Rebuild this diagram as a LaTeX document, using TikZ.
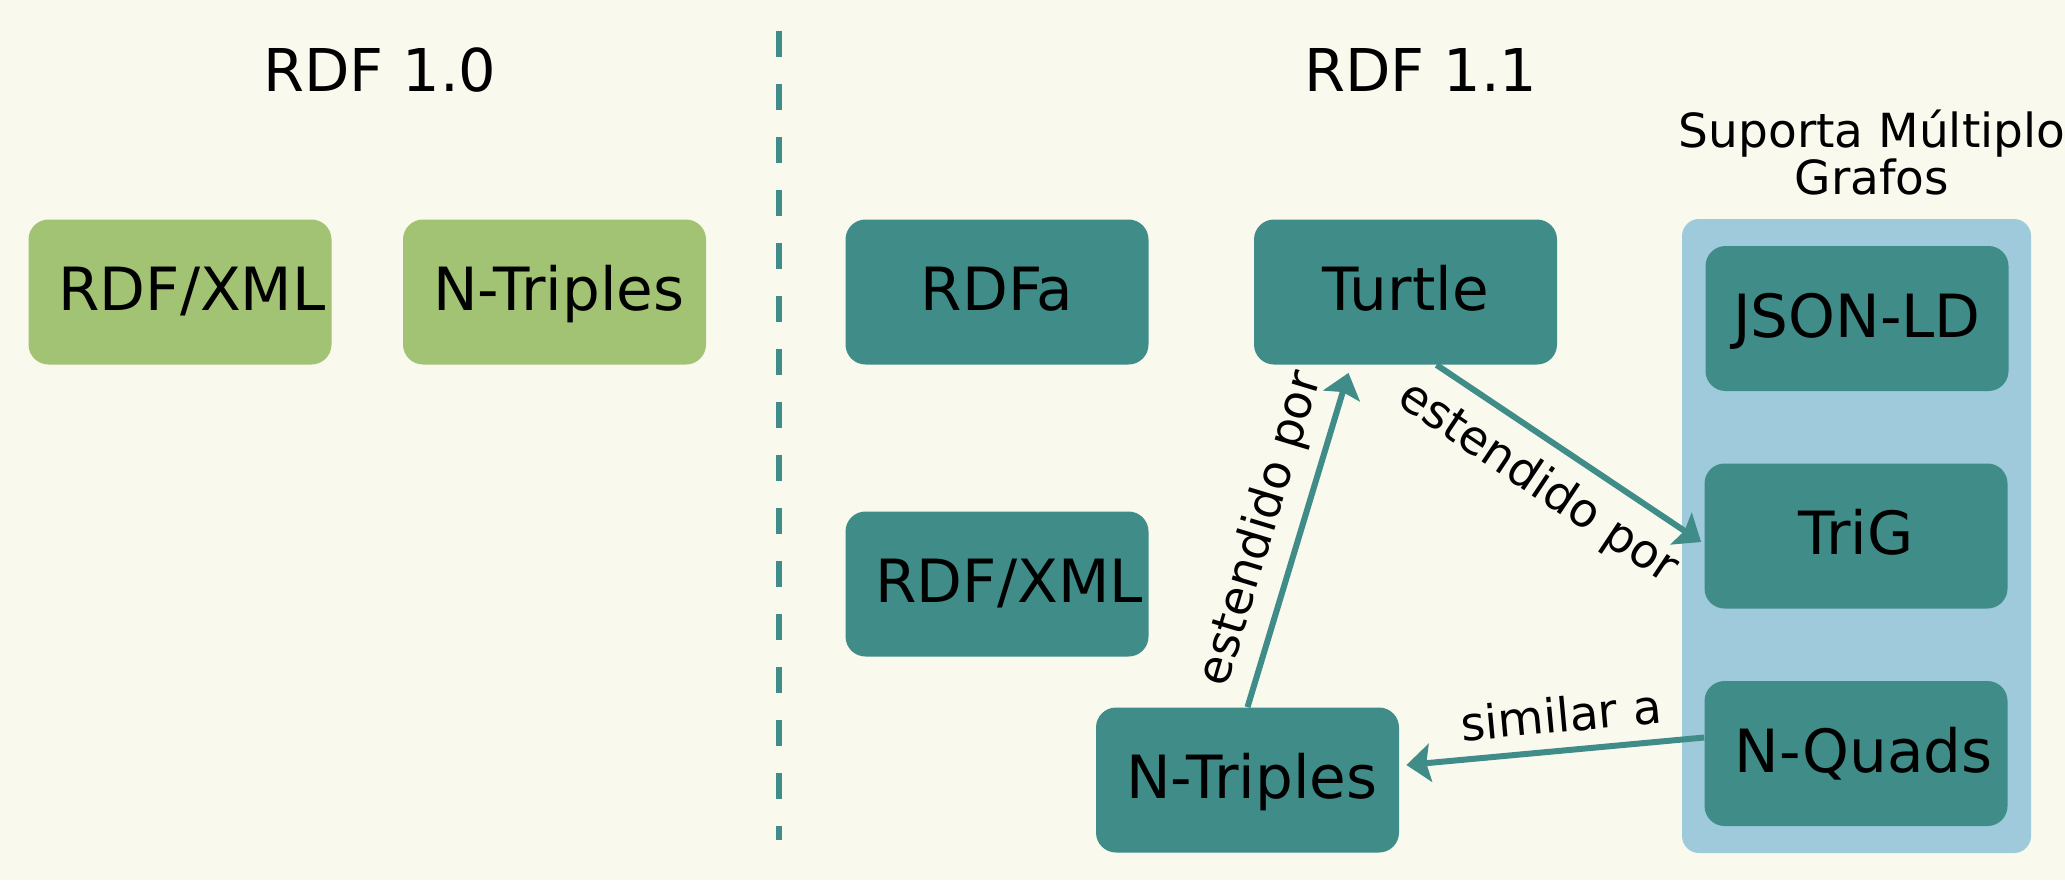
\documentclass[tikz,border=0pt]{standalone}
\usepackage{fontspec}
\setmainfont{DejaVu Sans}
\usepackage{xcolor}
\usepackage{tikz}
\usetikzlibrary{calc,arrows.meta}

\definecolor{nenkem}{HTML}{F9F9EE}
\definecolor{xanhla}{HTML}{A2C274}
\definecolor{xanhngoc}{HTML}{3F8C89}
\definecolor{xanhnhat}{HTML}{9FCADB}

\begin{document}
\begin{tikzpicture}[x=0.5pt,y=-0.5pt,
		hop/.style={rectangle,rounded corners=10pt,minimum width=151.5pt,minimum height=72.5pt,
			inner sep=0pt,font=\fontsize{29.8}{35}\selectfont,text height=21.7pt,text depth=3pt},
		hopcu/.style={hop,fill=xanhla},
		hopmoi/.style={hop,fill=xanhngoc},
		dai/.style={text width=121.5pt,align=left,
			execute at begin node={\hyphenpenalty=10000\exhyphenpenalty=10000\hfuzz=100pt}},
		tieude/.style={font=\fontsize{29.5}{35}\selectfont,text height=21.5pt,text depth=0pt,inner sep=0pt},
		muiten/.style={draw=xanhngoc,line width=3pt,-{Stealth[length=12pt,width=19pt,inset=2pt]}},
		nhan/.style={font=\fontsize{23.5}{24}\selectfont,sloped}]
	
	% nền
	\useasboundingbox (0,0) rectangle (2065,880);
	\fill[nenkem] (0,0) rectangle (2065,880);
	
	% tiêu đề hai phiên bản
	\node[tieude] (td10) at (380,70) {RDF 1.0};
	\node[tieude] (td11) at (1421,70) {RDF 1.1};
	
	% đường phân cách
	\draw[xanhngoc,line width=3pt,dash pattern=on 13pt off 13.5pt] (779,31) -- (779,840);
	
	% các định dạng RDF 1.0
	\node[hopcu,dai] (cuxml) at (180,292) {RDF/XML};
	\node[hopcu,dai] (cunt) at (554.5,292) {N-Triples};
	
	% các định dạng RDF 1.1
	\node[hopmoi] (rdfa) at (997,292) {RDFa};
	\node[hopmoi] (turtle) at (1405.5,292) {Turtle};
	\node[hopmoi,dai] (rdfxml) at (997,584) {RDF/XML};
	\node[hopmoi,dai] (ntriples) at (1247.5,780) {N-Triples};
	
	% nhóm hỗ trợ nhiều đồ thị
	\fill[xanhnhat,rounded corners=8.5pt] (1682,219) rectangle (2031,853);
	\node[font=\fontsize{23.5}{23.5}\selectfont,align=center,inner sep=0pt] (nhom) at (1872,153) {Suporta Múltiplo\\Grafos};
	\node[hopmoi] (jsonld) at (1857,318.5) {JSON-LD};
	\node[hopmoi] (trig) at (1856,536) {TriG};
	\node[hopmoi,dai] (nquads) at (1856,753.5) {N-Quads};
	
	% mũi tên quan hệ
	\draw[muiten] (ntriples.north) -- node[nhan,above=3pt] {estendido por} ($(turtle.south)+(-57,8)$);
	\draw[muiten] ($(turtle.south)+(31,0)$) -- node[nhan,below=5pt,pos=0.47] {estendido por} ($(trig.west)+(-3,6)$);
	\draw[muiten] ($(nquads.west)+(0,-16)$) -- node[nhan,above=4pt,pos=0.47] {similar a} ($(ntriples.east)+(7,-15)$);
\end{tikzpicture}
\end{document}
